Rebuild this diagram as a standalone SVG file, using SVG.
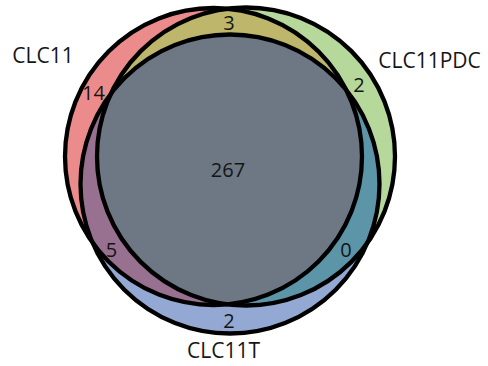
<svg xmlns="http://www.w3.org/2000/svg" width="488" height="366" viewBox="0 0 488 366">
<style>
.o{fill:none;stroke:#000;stroke-width:4.3}
.t{font-family:"Open Sans","Liberation Sans",sans-serif;font-size:20px;fill:#151515;text-anchor:middle}
.l{font-family:"Open Sans","Liberation Sans",sans-serif;font-size:21px;fill:#151515;text-anchor:middle}
</style>
<defs>
<circle id="cA" cx="213.5" cy="156.5" r="148.5"/>
<circle id="cB" cx="246" cy="156.5" r="149"/>
<circle id="cC" cx="230" cy="184" r="149.5"/>
<clipPath id="kA"><use href="#cA"/></clipPath>
<clipPath id="kB"><use href="#cB"/></clipPath>
<clipPath id="kC"><use href="#cC"/></clipPath>
</defs>
<g id="fills">
<use href="#cA" fill="#ec8b8b"/>
<use href="#cB" fill="#b6d89b"/>
<use href="#cC" fill="#93a8d2"/>
<use href="#cB" fill="#bdb66b" clip-path="url(#kA)"/>
<use href="#cC" fill="#987191" clip-path="url(#kA)"/>
<use href="#cC" fill="#5c94a8" clip-path="url(#kB)"/>
<g clip-path="url(#kA)"><use href="#cC" fill="#6e7884" clip-path="url(#kB)"/></g>
</g>
<g id="CLC11"><use href="#cA" class="o"/><text class="l" x="43" y="63">CLC11</text></g>
<g id="CLC11PDC"><use href="#cB" class="o"/><text class="l" x="429.5" y="68">CLC11PDC</text></g>
<g id="CLC11T"><use href="#cC" class="o"/><text class="l" x="223.5" y="358">CLC11T</text></g>
<g id="counts">
<text class="t" x="229" y="30">3</text>
<text class="t" x="93.5" y="100">14</text>
<text class="t" x="359" y="92">2</text>
<text class="t" x="228" y="177">267</text>
<text class="t" x="111.5" y="257">5</text>
<text class="t" x="346" y="257">0</text>
<text class="t" x="229" y="328">2</text>
</g>
</svg>
